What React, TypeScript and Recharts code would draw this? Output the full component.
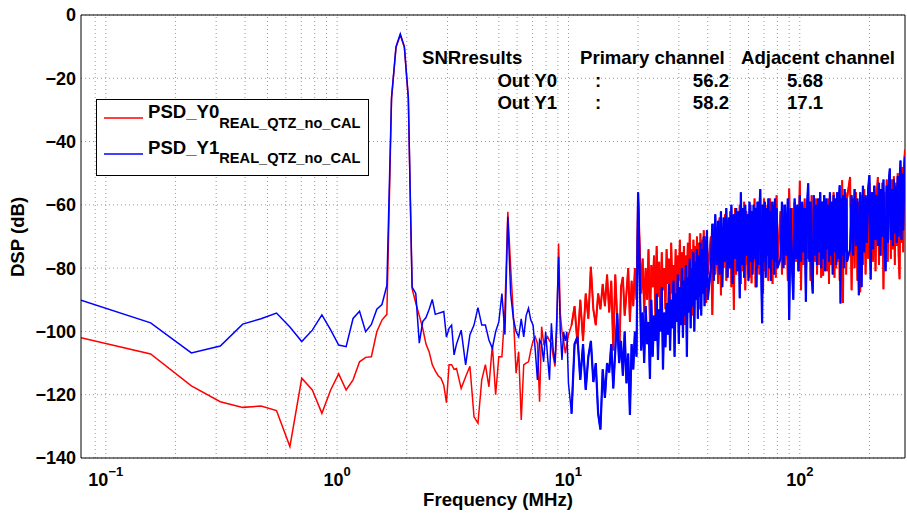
import React from 'react';
import { LineChart, Line, XAxis, YAxis, CartesianGrid, ReferenceLine } from 'recharts';

const FONT = "'Liberation Sans', Arial, Helvetica, sans-serif";

// FFT bin spacing in MHz; points are read at bins start + i * step
const DF = 0.078125;
const segStart = [1, 42, 132, 264, 528, 1056, 2112];
const segStep = [1, 2, 4, 4, 8, 16, 32];
// from this segment on the spectrum is a dense noise band, drawn with a heavier stroke
const DENSE_FROM = 2;

// PSD_Y0 (red), dB
const y0Seg1 = [-102, -107.1, -117.2, -122.2, -124, -123.6, -125, -136.4, -114.8, -118.5, -125.9, -118.5, -113.4, -118.5, -115.3, -109.6, -108.2, -108, -100.1, -96.4, -94.6, -26.5, -10.3, -6.3, -10.3, -26.5, -86.5, -91, -95, -99, -104, -106.5, -110.5, -112.5, -114, -114.8, -117, -122.5, -110.5, -110.5, -112];
const y0Seg2 = [-111.7, -118, -114.3, -111, -127, -129, -115.3, -110.5, -117.5, -104.3, -120, -108, -108, -93.2, -62.2, -79.6, -95, -113.2, -106.4, -128, -110.6, -110, -109.6, -105.9, -103, -101.7, -103.8, -122.2, -98.5, -103.8, -102.5, -101.7, -103, -103.8, -108, -111.1, -99, -72.2, -94.3, -100, -102.7, -106.9, -104, -101.1];
const y0Seg3 = [-98, -92, -104, -90, -103, -88, -96, -79.6, -93, -98, -88, -93, -85, -92, -82, -94, -84, -106, -82, -96, -109.6, -86, -82.8, -95, -88, -80, -97, -84, -92, -80, -90, -56.5];
const y0Seg4 = [
  -88, -77, -94, -80, -90, -74, -98, -79, -86, -76,
  -95, -73, -89, -78, -99, -75, -87, -80, -93, -74,
  -85, -77, -96, -72, -88, -79, -91, -74, -97, -76,
  -84, -71, -90, -75, -87, -73, -98, -76, -85, -72,
  -92, -69, -86, -74, -95, -71, -84, -73, -90, -70,
  -83, -72, -93, -69, -82, -71, -88, -68, -84, -70,
  -91, -69, -82,
];
const y0Seg5 = [
  -70, -94.8, -66, -82, -68, -85, -64, -88.6, -67, -80,
  -63, -84, -66, -79, -62, -86, -65, -93.2, -61, -82,
  -64, -78, -60, -85, -63, -81, -59, -87, -62, -79,
  -65, -83, -60, -84.8, -63, -78, -58, -86, -61, -80,
  -59, -82, -62, -77, -60, -88, -58, -81, -63, -79,
  -60, -84, -59, -58, -80, -62, -85, -59, -78, -61,
  -83, -57, -79,
];
const y0Seg6 = [
  -62, -82, -60, -79, -63, -84, -54.8, -80, -61, -83,
  -59, -78, -62, -81, -52.4, -87, -60, -79, -58, -83,
  -61, -77, -59, -84, -57, -80, -62, -78, -58, -82,
  -60, -79, -56, -83, -59, -82.4, -57, -77, -61, -81,
  -58, -85, -57, -79, -60, -76, -56, -83, -59, -80,
  -57, -78, -60, -84, -58, -79, -52.2, -91, -59, -77,
  -56, -82, -58,
];
const y0Seg7 = [
  -51.2, -87, -58, -80, -56, -84, -59, -87.6, -57, -79,
  -55, -82, -58, -77, -53, -80, -56, -78, -54, -81,
  -57, -51.2, -79, -55, -76, -53, -86.7, -56, -75, -52,
  -78, -54, -50, -77, -52, -74, -51, -79, -53, -73,
  -50, -76, -83.5, -49, -72, -48, -75, -47, -42.5,
];

// PSD_Y1 (blue), dB
const y1Seg1 = [-90.1, -97.3, -106.8, -104.6, -97.7, -96, -94.2, -98.6, -103.2, -99.6, -94.8, -99.5, -104.3, -104.8, -95.9, -93.6, -100.1, -97.8, -93, -91.5, -85.5, -26, -10, -6, -10, -26, -86, -88, -103.7, -96.9, -95.6, -93, -89.9, -94.6, -94.3, -94, -93.7, -101.8, -99, -98, -107.4];
const y1Seg2 = [-104, -99.6, -110.6, -101, -98, -92.5, -98, -98, -102.7, -105.3, -100.1, -97, -88, -101, -63.8, -88, -96, -100, -101.7, -96, -101.7, -95, -92.7, -96.4, -98, -106, -115.3, -102.7, -104, -109.6, -100.1, -108, -115.3, -97.4, -106, -110, -95.4, -76.4, -100, -109, -100.1, -103, -100.1, -116.4];
const y1Seg3 = [-126, -104, -101.7, -115.3, -104, -118.5, -108, -103, -116, -110, -126, -131, -112, -121, -110, -113, -104, -118, -106, -94.3, -110, -103, -114, -100, -116.4, -107, -126.4, -104, -112, -100, -108, -56];
const y1Seg4 = [
  -106, -94, -110, -92, -104, -97, -115, -90, -108, -95,
  -103, -88, -109, -93, -100, -86, -112, -94, -105, -91,
  -101, -85, -106, -90, -99, -84, -108, -88, -97, -82,
  -104, -86, -98, -80, -102, -84, -95, -79, -108, -83,
  -94, -77, -99, -80, -92, -75, -100, -78, -90, -74,
  -96, -76, -89, -72, -95, -74, -88, -70, -92, -71,
  -86, -68, -90,
];
const y1Seg5 = [
  -80, -66, -84, -63, -79, -65, -82, -62, -86, -64,
  -78, -61, -83, -64, -80, -60, -85, -63, -77, -61,
  -81, -62, -89.5, -56, -79, -61, -83, -60, -76, -63,
  -84, -59, -78, -62, -82, -60, -77, -61, -86, -59,
  -79, -62, -55, -81, -97.4, -60, -78, -59, -83, -61,
  -76, -58, -80, -62, -84, -59, -77, -60, -82, -58,
  -78, -61, -80,
];
const y1Seg6 = [
  -77, -59, -80, -60, -76, -58, -96.4, -61, -79, -90,
  -58, -77, -60, -81, -57, -78, -59, -75, -61, -90.6,
  -60, -53.2, -78, -59, -82, -88, -57, -76, -60, -79,
  -58, -75, -56, -80, -59, -77, -57, -81, -58, -74,
  -60, -78, -56, -76, -59, -82, -57, -75, -58, -79,
  -56, -77, -59, -53.8, -91.2, -58, -76, -57, -80, -55,
  -75, -58, -78,
];
const y1Seg7 = [
  -74, -57, -76, -55, -73, -58, -88.6, -56, -86, -54,
  -75, -57, -72, -55, -50.6, -83.6, -56, -74, -54, -71,
  -57, -73, -53, -76, -55, -70, -52, -74, -81, -54,
  -72, -53, -48.5, -71, -55, -73, -52, -69, -54, -72,
  -51, -70, -53, -46, -71, -50, -68, -52, -44.8,
];

const y0Segs = [y0Seg1, y0Seg2, y0Seg3, y0Seg4, y0Seg5, y0Seg6, y0Seg7];
const y1Segs = [y1Seg1, y1Seg2, y1Seg3, y1Seg4, y1Seg5, y1Seg6, y1Seg7];

const xTicks = [0.1, 1, 10, 100];
const yTicks = [0, -20, -40, -60, -80, -100, -120, -140];
const gridFreqs = [0.09, 0.1, 0.2, 0.3, 0.4, 0.5, 0.6, 0.7, 0.8, 0.9, 1, 2, 3, 4, 5, 6, 7, 8, 9, 10, 20, 30, 40, 50, 60, 70, 80, 90, 100, 200];

type Row = { f: number; y0: number; y1: number; y0d?: number; y1d?: number };
const data: Row[] = [];
segStart.forEach((start, s) => {
  y0Segs[s].forEach((v, i) => {
    const row: Row = { f: (start + i * segStep[s]) * DF, y0: v, y1: y1Segs[s][i] };
    if (s >= DENSE_FROM) {
      row.y0d = v;
      row.y1d = y1Segs[s][i];
    }
    data.push(row);
  });
});

const FreqTick = (props: any) => {
  const { x, y, payload } = props;
  const exp = Math.round(Math.log10(payload.value));
  return (
    <text x={x} y={y + 20} textAnchor="middle" fontSize={18} fontWeight="bold" fill="#000" fontFamily={FONT}>
      10
      <tspan dy={-10} fontSize={13}>{exp < 0 ? `\u2212${-exp}` : `${exp}`}</tspan>
    </text>
  );
};

const tickTxt = { fontFamily: FONT, fontSize: 18, fontWeight: 'bold' as const, fill: '#000' };
const txt = { ...tickTxt, fontSize: 18.6 };

export default function App() {
  return (
    <div style={{ position: 'absolute', left: 0, top: 0, width: 907, height: 513, background: '#fff' }}>
      <LineChart width={907} height={513} data={data} margin={{ top: 15, right: 2, bottom: 0, left: 0 }}>
        <CartesianGrid vertical={false} stroke="#999" strokeDasharray="1 3" />
        {gridFreqs.map((v) => (
          <ReferenceLine key={v} x={v} stroke="#999" strokeDasharray="1 3" />
        ))}
        <XAxis
          dataKey="f"
          type="number"
          scale="log"
          domain={[0.078125, 285]}
          allowDataOverflow
          ticks={xTicks}
          tick={<FreqTick />}
          tickLine={false}
          height={55}
          axisLine={{ stroke: '#000' }}
        />
        <YAxis
          type="number"
          domain={[-140, 0]}
          ticks={yTicks}
          width={81}
          tickLine={false}
          tickSize={4}
          tickMargin={1}
          axisLine={{ stroke: '#000' }}
          tick={{ ...tickTxt }}
          tickFormatter={(v: number) => (v < 0 ? `\u2212${-v}` : `${v}`)}
        />
        <ReferenceLine y={0} stroke="#000" />
        <ReferenceLine x={285} stroke="#000" />
        <Line type="linear" dataKey="y0" stroke="#ff0000" strokeWidth={1.5} dot={false} isAnimationActive={false} />
        <Line type="linear" dataKey="y0d" stroke="#ff0000" strokeWidth={2} dot={false} isAnimationActive={false} />
        <Line type="linear" dataKey="y1" stroke="#0000ff" strokeWidth={1.5} dot={false} isAnimationActive={false} />
        <Line type="linear" dataKey="y1d" stroke="#0000ff" strokeWidth={2.2} dot={false} isAnimationActive={false} />
      </LineChart>
      <svg width={907} height={513} style={{ position: 'absolute', left: 0, top: 0, pointerEvents: 'none' }}>
        <text {...txt} textAnchor="middle" transform="translate(23.5, 237) rotate(-90)">DSP (dB)</text>
        <text {...txt} x={498} y={506} textAnchor="middle">Frequency (MHz)</text>

        <rect x={96.5} y={99.5} width={272} height={76} fill="#fff" stroke="#000" />
        <line x1={104} x2={143} y1={118} y2={118} stroke="#ff0000" strokeWidth={1.4} />
        <text {...txt} x={148} y={118}>
          PSD_Y0<tspan dy={10} fontSize={14.6}>REAL_QTZ_no_CAL</tspan>
        </text>
        <line x1={104} x2={143} y1={154} y2={154} stroke="#0000ff" strokeWidth={1.4} />
        <text {...txt} x={148} y={154}>
          PSD_Y1<tspan dy={9} fontSize={14.6}>REAL_QTZ_no_CAL</tspan>
        </text>

        <text {...txt} x={422} y={64}>SNRresults</text>
        <text {...txt} x={580} y={64}>Primary channel</text>
        <text {...txt} x={741} y={64}>Adjacent channel</text>
        <text {...txt} x={557} y={87} textAnchor="end">Out Y0</text>
        <text {...txt} x={598} y={87} textAnchor="middle">:</text>
        <text {...txt} x={729} y={87} textAnchor="end">56.2</text>
        <text {...txt} x={787} y={87}>5.68</text>
        <text {...txt} x={557} y={109} textAnchor="end">Out Y1</text>
        <text {...txt} x={598} y={109} textAnchor="middle">:</text>
        <text {...txt} x={729} y={109} textAnchor="end">58.2</text>
        <text {...txt} x={787} y={109}>17.1</text>
      </svg>
    </div>
  );
}
